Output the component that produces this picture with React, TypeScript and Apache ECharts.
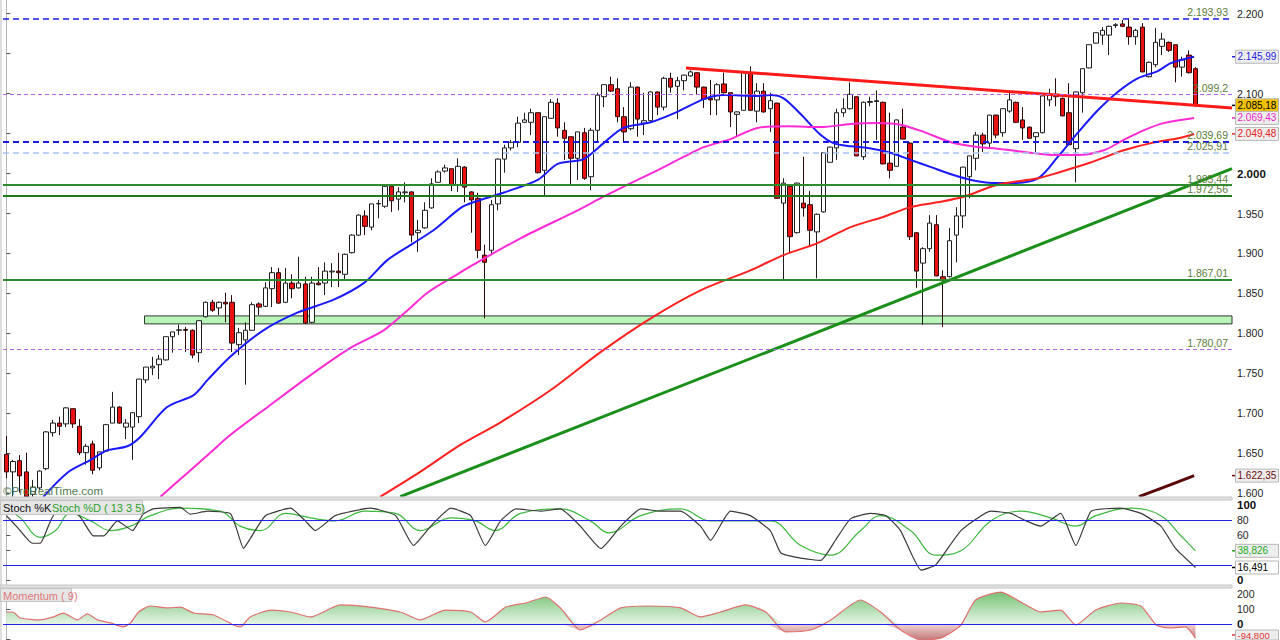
import React, { useEffect, useRef } from "react";
import * as echarts from "echarts";

const FONT = "Liberation Sans, Arial, sans-serif";

// [open, close, low, high]
const candles: number[][] = [
  [1649, 1627, 1619, 1672], [1627, 1640, 1596, 1642], [1641, 1622, 1601, 1648], [1627, 1596, 1594, 1651],
  [1599, 1608, 1596, 1617], [1607, 1628, 1604, 1629], [1631, 1677, 1629, 1678], [1676, 1688, 1671, 1692],
  [1688, 1684, 1673, 1696], [1687, 1707, 1683, 1708], [1706, 1687, 1682, 1706], [1684, 1651, 1648, 1693],
  [1651, 1659, 1636, 1662], [1662, 1629, 1624, 1666], [1632, 1652, 1629, 1652], [1653, 1686, 1652, 1687],
  [1688, 1708, 1688, 1727], [1708, 1688, 1687, 1709], [1683, 1688, 1668, 1693], [1683, 1701, 1642, 1701],
  [1696, 1743, 1688, 1743], [1742, 1758, 1738, 1758], [1757, 1759, 1748, 1771], [1761, 1768, 1743, 1773],
  [1767, 1796, 1766, 1796], [1796, 1802, 1776, 1802], [1804, 1804.5, 1798, 1811], [1805, 1804, 1777, 1808],
  [1804, 1773, 1769, 1805], [1776, 1816, 1764, 1816], [1821, 1839, 1820, 1840], [1839, 1829, 1827, 1842],
  [1832, 1839, 1823, 1840], [1839, 1837, 1814, 1851], [1839, 1788, 1777, 1848], [1786, 1801, 1773, 1807],
  [1792, 1804, 1736, 1814], [1804, 1836, 1804, 1839], [1837, 1833, 1823, 1839], [1834, 1857, 1833, 1864],
  [1856, 1876, 1833, 1883], [1876, 1838, 1837, 1882], [1839, 1863, 1838, 1882], [1863, 1856, 1844, 1874],
  [1857, 1863, 1856, 1896], [1862, 1813, 1812, 1871], [1814, 1863, 1813, 1871], [1863, 1861, 1860, 1883],
  [1863, 1878, 1848, 1889], [1877, 1878, 1858, 1888], [1878, 1876, 1858, 1901], [1874, 1899, 1867, 1900],
  [1901, 1923, 1900, 1924], [1923, 1948, 1922, 1949], [1947, 1934, 1923, 1954], [1933, 1962, 1929, 1962],
  [1962, 1962.5, 1944, 1967], [1959, 1984, 1957, 1985], [1984, 1966, 1952, 1985], [1968, 1977, 1954, 1983],
  [1976, 1977, 1964, 1989], [1977, 1923, 1914, 1978], [1926, 1929, 1902, 1942], [1932, 1954, 1931, 1964],
  [1957, 1987, 1956, 1994], [1989, 2002, 1989, 2004], [2003, 2007, 2001, 2011], [2006, 1986, 1978, 2006],
  [1986, 2009, 1977, 2019], [2008, 1983, 1964, 2009], [1977, 1967, 1926, 1978], [1969, 1904, 1894, 1976],
  [1898, 1889, 1819, 1911], [1904, 1961, 1898, 1967], [1962, 2018, 1954, 2019], [2018, 2032, 2001, 2036],
  [2032, 2039, 2029, 2042], [2039, 2063, 2033, 2071], [2064, 2067, 2063, 2076], [2064, 2076, 2048, 2081],
  [2076, 2001, 2000, 2076], [2004, 2071, 1973, 2071], [2069, 2089, 2069, 2093], [2088, 2057, 2046, 2094],
  [2054, 2044, 2017, 2064], [2046, 2019, 1986, 2046], [2019, 2052, 1992, 2052], [2051, 1994, 1992, 2057],
  [1996, 2054, 1979, 2057], [2054, 2098, 2039, 2101], [2096, 2111, 2083, 2111], [2111, 2103, 2102, 2121],
  [2106, 2071, 2064, 2119], [2071, 2052, 2039, 2083], [2056, 2108, 2054, 2114], [2108, 2068, 2046, 2108.5],
  [2063, 2066, 2048, 2101], [2066, 2102, 2065, 2102.5], [2102, 2083, 2073, 2102.5], [2083, 2119, 2079, 2121],
  [2119, 2108, 2101, 2126], [2109, 2116, 2068, 2121], [2116, 2123, 2104, 2123.5], [2122, 2127, 2121, 2129],
  [2126, 2108, 2098, 2126], [2108, 2093, 2082, 2108.5], [2094, 2092, 2073, 2117], [2092, 2111, 2073, 2113],
  [2112, 2101, 2100, 2126], [2101, 2077, 2058, 2101], [2074, 2077, 2046, 2077.5], [2079, 2127, 2079, 2127.5],
  [2126, 2079, 2079, 2134], [2078, 2103, 2064, 2113], [2103, 2077, 2076, 2113], [2081, 2091, 2052, 2101],
  [2088, 1969, 1969, 2088.5], [1963, 1988, 1867, 1994], [1984, 1921, 1901, 1985], [1926, 1988, 1925, 1988.5],
  [1963, 1957, 1946, 2021], [1961, 1929, 1908, 1978], [1927, 1949, 1869, 1950], [1952, 2026, 1951, 2026],
  [2014, 2033, 2014, 2033.5], [2032, 2076, 2017, 2081], [2076, 2081, 2071, 2094], [2081, 2099, 2080, 2114],
  [2096, 2022, 2021.5, 2096], [2021, 2089, 2017, 2090], [2089, 2090, 2084, 2096], [2090, 2091, 2042, 2104],
  [2089, 2012, 2011.5, 2090], [2013, 2004, 1994, 2076], [2009, 2067, 2009, 2067.5], [2058, 2043, 2042.5, 2081],
  [2038, 1921, 1917, 2039], [1926, 1878, 1857, 1926], [1888, 1906, 1811, 1908], [1906, 1938, 1902, 1948],
  [1936, 1872, 1871.5, 1948], [1871, 1866, 1808, 1879], [1871, 1916, 1870, 1932], [1923, 1947, 1889, 1958],
  [1947, 2008, 1932, 2008.5], [1996, 2022, 1969, 2022], [2019, 2048, 2004, 2052], [2048, 2037, 2027, 2051],
  [2038, 2073, 2033, 2073.5], [2073, 2048, 2044, 2073.5], [2051, 2081, 2046, 2081], [2078, 2092, 2076, 2104],
  [2089, 2064, 2063, 2090], [2067, 2057, 2042, 2083], [2058, 2044, 2044, 2058.5], [2046, 2051, 2027, 2051],
  [2051, 2097, 2050, 2097.5], [2092, 2098, 2084, 2106], [2099, 2096, 2084, 2119], [2094, 2072, 2071.5, 2095],
  [2076, 2036, 2035, 2113], [2031, 2102, 1989, 2102.5], [2101, 2131, 2076, 2131], [2132, 2161, 2131.5, 2161],
  [2163, 2176, 2162.5, 2176], [2173, 2179, 2161, 2183], [2173, 2184, 2148, 2185], [2185, 2186, 2182, 2188],
  [2187, 2184, 2183, 2192], [2183, 2171, 2161, 2193.93], [2171, 2179, 2161, 2181], [2183, 2127, 2126.5, 2188],
  [2121, 2139, 2120, 2140], [2136, 2164, 2133, 2182], [2159, 2168, 2148, 2176], [2164, 2154, 2152, 2165],
  [2161, 2133, 2114, 2161], [2133, 2142, 2121, 2146], [2148, 2126, 2125, 2154], [2131, 2085.18, 2083, 2133],
];

const slotCount = 185; // candles plus empty space on the right

// moving averages: [bar position, value]
const blueMA: number[][] = [
  [5.6, 1596], [9.2, 1626], [12.7, 1642], [15.2, 1654], [18.2, 1659], [20.2, 1671], [24.2, 1708], [28.2, 1723],
  [30.3, 1742], [33.7, 1771], [38.7, 1804], [43.8, 1826], [49.2, 1842], [53.8, 1863], [57.4, 1892], [61.3, 1913],
  [64.3, 1929], [68.4, 1957], [70.3, 1964], [74.8, 1976], [80, 1992], [83, 2012], [86.9, 2018], [89.9, 2038],
  [92.9, 2057], [97, 2064], [101, 2077], [105, 2093], [108, 2098], [113.1, 2097], [115, 2098], [117, 2094],
  [119.6, 2074], [122.6, 2048], [124.5, 2038], [127.1, 2034], [129.7, 2032], [133.1, 2026], [136.1, 2017],
  [139.2, 2008], [142.2, 1999], [145.2, 1992], [149.2, 1988], [151.2, 1988], [155.3, 1994], [158.3, 2021],
  [161.3, 2051], [164.3, 2079], [167.3, 2102], [170.3, 2119], [173.3, 2128], [175.3, 2138], [178.8, 2145.99],
];
const magentaMA: number[][] = [
  [23.2, 1596], [27.3, 1626], [30.7, 1651], [33.7, 1673], [39.8, 1711], [45.8, 1748], [51.8, 1782], [56.8, 1804],
  [60.4, 1829], [63.4, 1851], [67.3, 1871], [70.3, 1886], [77.4, 1919], [86, 1954], [89.9, 1971], [94, 1988],
  [98, 2004], [102, 2021], [105, 2033], [109, 2043], [113.1, 2057], [117.6, 2059], [122.6, 2058], [127.1, 2062],
  [131.2, 2063], [134.6, 2061], [138.1, 2052], [142.2, 2039], [146.2, 2033], [149.2, 2031], [153.2, 2027],
  [158.3, 2023], [161.3, 2023], [165.2, 2029], [168.2, 2042], [171.2, 2054], [174.2, 2063], [178.8, 2069.43],
];
const redMA: number[][] = [
  [56.3, 1596], [62.3, 1627], [68.4, 1661], [74.4, 1689], [81.9, 1729], [89.5, 1777], [97, 1819], [104.5, 1854],
  [112, 1879], [117, 1898], [122.1, 1913], [127.1, 1933], [132.1, 1946], [136.1, 1958], [140.2, 1964],
  [144.1, 1971], [149.2, 1986], [155.3, 1994], [158.3, 2001], [163.3, 2014], [168.2, 2029], [172.3, 2038],
  [176.4, 2044], [178.8, 2049.48],
];
const brownMA: number[][] = [[170.5, 1596], [174, 1607], [178.8, 1622.35]];

const redTrend: number[][] = [[102.3, 2132], [184.5, 2082]];
const greenTrend: number[][] = [[59.3, 1596], [184.5, 2006]];

const levelValues = [2193.93, 2099.2, 2039.69, 2025.91, 1985.44, 1972.56, 1867.01, 1780.07];
const levelColors = ["#1a1ae6", "#b366e6", "#1a1ae6", "#a6c2f5", "#2e8b2e", "#1f7a1f", "#2e8b2e", "#b366e6"];
const levelTypes: any[] = [[6, 4], [4, 3], [6, 4], [6, 4], "solid", "solid", "solid", [4, 3]];
const levelWidths = [1.5, 1, 2, 1.5, 2, 2, 2, 1];
const bandRange = [1812, 1822];
const bandStart = 20.8;

const priceTicks = [1600, 1650, 1700, 1750, 1800, 1850, 1900, 1950, 2000, 2050, 2100, 2150, 2200];
const priceLabels = [1600, 1650, 1700, 1750, 1800, 1850, 1900, 1950, 2000, 2100, 2200];
const stochTicks = [0, 20, 40, 60, 80, 100];
const stochLabels = [0, 60, 80, 100];
const momTicks = [-100, 0, 100, 200];
const momLabels = [0, 100, 200];

const stochK: number[][] = [
  [0, 86], [1.7, 70], [3.9, 49], [5.1, 49], [7.3, 88], [10.7, 88], [13.1, 59], [14.7, 59], [16.7, 79], [19, 66],
  [20.6, 88], [22.1, 95], [26.2, 97], [27.7, 88], [30.3, 92], [33.7, 89], [34.6, 70], [35.7, 42], [36.7, 55],
  [39, 86], [42.8, 96], [45, 79], [46.5, 66], [49.5, 86], [54.8, 96], [58.6, 86], [61.3, 46], [63.9, 72],
  [66.9, 96], [69.9, 86], [72.1, 46], [74.4, 79], [76.7, 95], [80.4, 92], [83.4, 95], [86.4, 72], [89.5, 42],
  [92.5, 72], [95.5, 95], [98.5, 92], [101.5, 92], [104.5, 72], [106, 53], [109, 92], [112, 86], [115, 66],
  [116.6, 36], [119.6, 29], [122.6, 26], [124.8, 53], [127.1, 82], [130.1, 89], [132.4, 86], [134.6, 66],
  [137.7, 13], [139.9, 20], [143.7, 66], [148.2, 92], [151.2, 89], [153.5, 79], [155.7, 72], [158.7, 89],
  [161, 46], [163.3, 92], [167.8, 96], [170.8, 89], [173.8, 72], [176, 42], [179, 16.491],
];
const stochD: number[][] = [
  [0, 95], [2.1, 83], [5.1, 57], [7.4, 66], [9.6, 89], [12.7, 79], [15.7, 66], [18.7, 72], [21.7, 86],
  [26.2, 96], [32.2, 92], [35.2, 72], [38.3, 66], [42, 89], [45.8, 83], [49.5, 79], [54, 92], [58.6, 89],
  [62.3, 66], [66.9, 83], [70.6, 79], [73.6, 66], [77.4, 89], [83.4, 95], [87.9, 79], [90.7, 63], [95.5, 86],
  [101.5, 95], [106, 79], [109.8, 79], [115, 79], [119.6, 46], [124.1, 33], [128.6, 66], [131.6, 86],
  [136.1, 66], [139.9, 33], [143.7, 39], [148.2, 79], [152.7, 92], [157.2, 83], [161, 72], [164, 86],
  [169.3, 96], [173.8, 86], [176.8, 59], [179, 38.826],
];
const momentum: number[][] = [
  [0, 80], [1, 80], [2.1, 40], [5.1, 27], [7.1, 47], [8.6, 73], [10.7, 27], [12.2, 67], [13.7, 27], [15.7, 7],
  [17.6, -20], [18.7, 7], [19.9, 80], [21.7, 120], [24.2, 107], [26.2, 113], [28.2, 73], [31.2, 60], [34.2, -7],
  [35.2, -20], [36.7, 47], [39.8, 93], [42.8, 80], [45.8, 47], [50.3, 127], [54.8, 113], [59.3, 80], [62.3, 27],
  [66.1, 93], [69.9, 80], [72.1, 13], [75.2, 113], [78.2, 140], [81.2, 180], [83.4, 107], [86.4, -40],
  [89.5, 27], [92.5, 107], [97, 120], [101.5, 107], [104.5, 47], [107.5, 80], [111.3, 127], [114.3, 80],
  [117.3, -53], [121.1, -40], [124.1, 27], [128.6, 160], [131.6, 80], [134.6, -40], [137.7, -107],
  [140.7, -93], [143.7, -7], [145.9, 160], [149.7, 213], [152.7, 147], [155.7, 80], [158.7, 93], [161, -7],
  [164, 93], [167.8, 140], [170.8, 120], [173.1, -7], [175.3, -27], [177.5, -20], [179, -94.8],
];

const fmtThousand = (v: number) => {
  const neg = v < 0;
  const s = String(Math.abs(v));
  const [intPart, frac] = s.split(".");
  const withDots = intPart.replace(/\B(?=(\d{3})+(?!\d))/g, ".");
  return (neg ? "-" : "") + withDots + (frac ? "," + frac : "");
};
const fmtFixed = (v: number, d: number) => {
  const s = v.toFixed(d);
  const neg = s.startsWith("-");
  const [intPart, frac] = s.replace("-", "").split(".");
  return (neg ? "-" : "") + intPart.replace(/\B(?=(\d{3})+(?!\d))/g, ".") + (frac ? "," + frac : "");
};

export default function App() {
  const ref = useRef<HTMLDivElement>(null);
  useEffect(() => {
    const chart = echarts.init(ref.current as HTMLDivElement, undefined, { renderer: "svg" });
    const cats = Array.from({ length: slotCount }, (_, i) => String(i));
    const gridL = 3;
    const gridR = 48;
    const xVal = (gridIndex: number) => ({
      type: "value", gridIndex, min: -0.5, max: slotCount - 0.5, show: false,
    });
    const yBase = {
      position: "right",
      splitLine: { show: false },
      axisLine: { show: true, lineStyle: { color: "#b4b4b4" } },
      axisTick: { show: true, length: 4, lineStyle: { color: "#555" } },
    };
    const labelBase = { color: "#222", fontSize: 10.5, fontFamily: FONT, margin: 5, align: "left", lineHeight: 11 };
    const boldRich = { b: { fontWeight: "bold", fontSize: 11.5, fontFamily: FONT, color: "#111", lineHeight: 11 } };

    const option: any = {
      animation: false,
      backgroundColor: "#ffffff",
      textStyle: { fontFamily: FONT },
      grid: [
        { left: gridL, right: gridR, top: 0, height: 497 },
        { left: gridL, right: gridR, top: 500, height: 85 },
        { left: gridL, right: gridR, top: 588, height: 52 },
      ],
      xAxis: [
        { type: "category", gridIndex: 0, data: cats, boundaryGap: true, show: false },
        xVal(0),
        xVal(1),
        xVal(2),
      ],
      yAxis: [
        {
          ...yBase, type: "value", gridIndex: 0, min: 1595.6, max: 2216.9,
          axisTick: { ...yBase.axisTick, customValues: priceTicks },
          axisLabel: {
            ...labelBase, customValues: priceLabels,
            formatter: (v: number) => (v === 2000 ? `{b|${fmtThousand(v)}}` : fmtThousand(v)),
            rich: boldRich,
          },
        },
        {
          ...yBase, type: "value", gridIndex: 1, min: -7, max: 107,
          axisTick: { ...yBase.axisTick, customValues: stochTicks },
          axisLabel: {
            ...labelBase, customValues: stochLabels,
            formatter: (v: number) => (v === 0 || v === 100 ? `{b|${v}}` : String(v)),
            rich: boldRich,
          },
        },
        {
          ...yBase, type: "value", gridIndex: 2, min: -107, max: 240,
          axisTick: { ...yBase.axisTick, customValues: momTicks },
          axisLabel: {
            ...labelBase, customValues: momLabels,
            formatter: (v: number) => (v === 0 ? `{b|${v}}` : String(v)),
            rich: boldRich,
          },
        },
      ],
      series: [
        {
          type: "line", name: "levels", xAxisIndex: 1, yAxisIndex: 0, data: [], silent: true,
          markArea: {
            silent: true,
            itemStyle: { color: "#b9f5b9", borderColor: "#333", borderWidth: 1 },
            data: [[{ xAxis: bandStart, yAxis: bandRange[1] }, { xAxis: slotCount - 0.5, yAxis: bandRange[0] }]],
          },
          markLine: {
            silent: true, symbol: "none",
            data: levelValues.map((v, k) => ({
              yAxis: v,
              lineStyle: { color: levelColors[k], type: levelTypes[k], width: levelWidths[k] },
              label: {
                show: true, position: "insideEndTop", formatter: fmtThousand(v), color: "#5b7d3b",
                fontSize: 10.5, fontFamily: FONT, distance: [4, 1],
              },
            })),
          },
        },
        {
          type: "candlestick", name: "price", xAxisIndex: 0, yAxisIndex: 0, data: candles, barWidth: 5,
          itemStyle: { color: "#ffffff", color0: "#e81212", borderColor: "#1e1e1e", borderColor0: "#2a0a0a", borderWidth: 1 },
        },
        {
          type: "line", name: "ma20", xAxisIndex: 1, yAxisIndex: 0, data: blueMA, smooth: 0.3, symbol: "none",
          lineStyle: { color: "#1a1aff", width: 2 },
        },
        {
          type: "line", name: "ma50", xAxisIndex: 1, yAxisIndex: 0, data: magentaMA, smooth: 0.3, symbol: "none",
          lineStyle: { color: "#ff2ad4", width: 2 },
        },
        {
          type: "line", name: "ma100", xAxisIndex: 1, yAxisIndex: 0, data: redMA, smooth: 0.3, symbol: "none",
          lineStyle: { color: "#ff2020", width: 2 },
        },
        {
          type: "line", name: "ma200", xAxisIndex: 1, yAxisIndex: 0, data: brownMA, smooth: 0.3, symbol: "none",
          lineStyle: { color: "#5a0808", width: 3 },
        },
        {
          type: "line", name: "redTrend", xAxisIndex: 1, yAxisIndex: 0, data: redTrend, symbol: "none",
          lineStyle: { color: "#ff1a1a", width: 3 },
        },
        {
          type: "line", name: "greenTrend", xAxisIndex: 1, yAxisIndex: 0, data: greenTrend, symbol: "none",
          lineStyle: { color: "#1a8f1a", width: 3 },
        },
        {
          type: "line", name: "Stoch %D", xAxisIndex: 2, yAxisIndex: 1, data: stochD, smooth: 0.4, symbol: "none",
          lineStyle: { color: "#3cb83c", width: 1.2 },
          markLine: {
            silent: true, symbol: "none", label: { show: false },
            lineStyle: { color: "#2222ee", width: 1, type: "solid" },
            data: [{ yAxis: 80 }, { yAxis: 20 }],
          },
        },
        {
          type: "line", name: "Stoch %K", xAxisIndex: 2, yAxisIndex: 1, data: stochK, smooth: 0.15, symbol: "none",
          lineStyle: { color: "#3a3a3a", width: 1.2 },
        },
        {
          type: "line", name: "momPos", xAxisIndex: 3, yAxisIndex: 2, symbol: "none", smooth: 0.2,
          data: momentum.map((p) => [p[0], Math.max(p[1], 0)]),
          lineStyle: { width: 0, opacity: 0 },
          areaStyle: {
            color: new echarts.graphic.LinearGradient(0, 0, 0, 1, [
              { offset: 0, color: "#74c274" }, { offset: 1, color: "#e6f5e6" },
            ]),
            opacity: 1,
          },
        },
        {
          type: "line", name: "momNeg", xAxisIndex: 3, yAxisIndex: 2, symbol: "none", smooth: 0.2,
          data: momentum.map((p) => [p[0], Math.min(p[1], 0)]),
          lineStyle: { width: 0, opacity: 0 },
          areaStyle: {
            color: new echarts.graphic.LinearGradient(0, 0, 0, 1, [
              { offset: 0, color: "#f2d4d4" }, { offset: 1, color: "#c07878" },
            ]),
            opacity: 1,
          },
        },
        {
          type: "line", name: "Momentum", xAxisIndex: 3, yAxisIndex: 2, data: momentum, smooth: 0.2, symbol: "none",
          lineStyle: { color: "#e07070", width: 1.2 },
          markLine: {
            silent: true, symbol: "none", label: { show: false },
            lineStyle: { color: "#2222ee", width: 1, type: "solid" },
            data: [{ yAxis: 0 }],
          },
        },
      ],
    };
    chart.setOption(option);

    const plotRight = 1280 - gridR;
    const tag = (yRaw: number, text: string, color: string, bg: string) => {
      const low = yRaw > 630;
      const y = low ? 635 : yRaw;
      const h = low ? 10 : 13;
      return [
        { type: "line", shape: { x1: plotRight, y1: y, x2: plotRight + 4, y2: y }, style: { stroke: color, lineWidth: 1.5 }, z: 100 },
        { type: "rect", shape: { x: plotRight + 3.5, y: y - h / 2, width: 43, height: h }, style: { fill: bg, stroke: "#b8b8b8", lineWidth: 1 }, z: 100 },
        {
          type: "text", x: plotRight + 5.5, y,
          style: { text, fill: color, font: `${low ? 9.5 : 10}px ${FONT}`, verticalAlign: "middle", lineHeight: low ? 10 : 12 },
          z: 101,
        },
      ];
    };
    const py = (axis: number, v: number) => chart.convertToPixel({ yAxisIndex: axis } as any, v) as number;

    const tags = [
      ...tag(py(0, 2145.99), fmtFixed(2145.99, 2), "#1f1fe0", "#eeeeee"),
      ...tag(py(0, 2085.18), fmtFixed(2085.18, 2), "#000000", "#f2c200"),
      ...tag(py(0, 2069.43), fmtFixed(2069.43, 2), "#e81ec8", "#eeeeee"),
      ...tag(py(0, 2049.48), fmtFixed(2049.48, 2), "#e82020", "#eeeeee"),
      ...tag(py(0, 1622.35), fmtFixed(1622.35, 2), "#6a0a0a", "#eeeeee"),
      ...tag(py(1, 38.826), fmtFixed(38.826, 3), "#20a820", "#eeeeee"),
      ...tag(py(1, 16.491), fmtFixed(16.491, 3), "#000000", "#ffffff"),
      ...tag(py(2, -94.8), fmtFixed(-94.8, 3), "#e03030", "#eeeeee"),
    ];

    const frames: any[] = [
      { type: "line", shape: { x1: 1, y1: 0, x2: 1, y2: 640 }, style: { stroke: "#bdbdbd", lineWidth: 1 }, z: 90 },
      { type: "rect", shape: { x: 0, y: 497, width: plotRight, height: 3 }, style: { fill: "#e2e2e2", stroke: "#c4c4c4", lineWidth: 1 }, z: 90 },
      { type: "rect", shape: { x: 0, y: 585, width: plotRight, height: 3 }, style: { fill: "#e2e2e2", stroke: "#c4c4c4", lineWidth: 1 }, z: 90 },
      { type: "rect", shape: { x: 0.5, y: 500.5, width: 142, height: 14 }, style: { fill: "#e6e6e6", stroke: "#c4c4c4", lineWidth: 1 }, z: 95 },
      { type: "text", x: 3, y: 508, style: { text: "Stoch %K", fill: "#111", font: `11px ${FONT}`, verticalAlign: "middle" }, z: 96 },
      { type: "text", x: 52, y: 508, style: { text: "Stoch %D ( 13 3 5)", fill: "#2aa02a", font: `11px ${FONT}`, verticalAlign: "middle" }, z: 96 },
      { type: "rect", shape: { x: 0.5, y: 588.5, width: 71, height: 13 }, style: { fill: "#e6e6e6", stroke: "#c4c4c4", lineWidth: 1 }, z: 95 },
      { type: "text", x: 3, y: 595.5, style: { text: "Momentum ( 9)", fill: "#e07878", font: `11px ${FONT}`, verticalAlign: "middle" }, z: 96 },
      { type: "text", x: 3, y: 491, style: { text: "©ProRealTime.com", fill: "#4f7a4f", font: `11.5px ${FONT}`, verticalAlign: "middle" }, z: 96 },
    ];

    chart.setOption({ graphic: [...frames, ...tags] });
    return () => chart.dispose();
  }, []);
  return <div ref={ref} style={{ position: "fixed", left: 0, top: 0, width: 1280, height: 640 }} />;
}
